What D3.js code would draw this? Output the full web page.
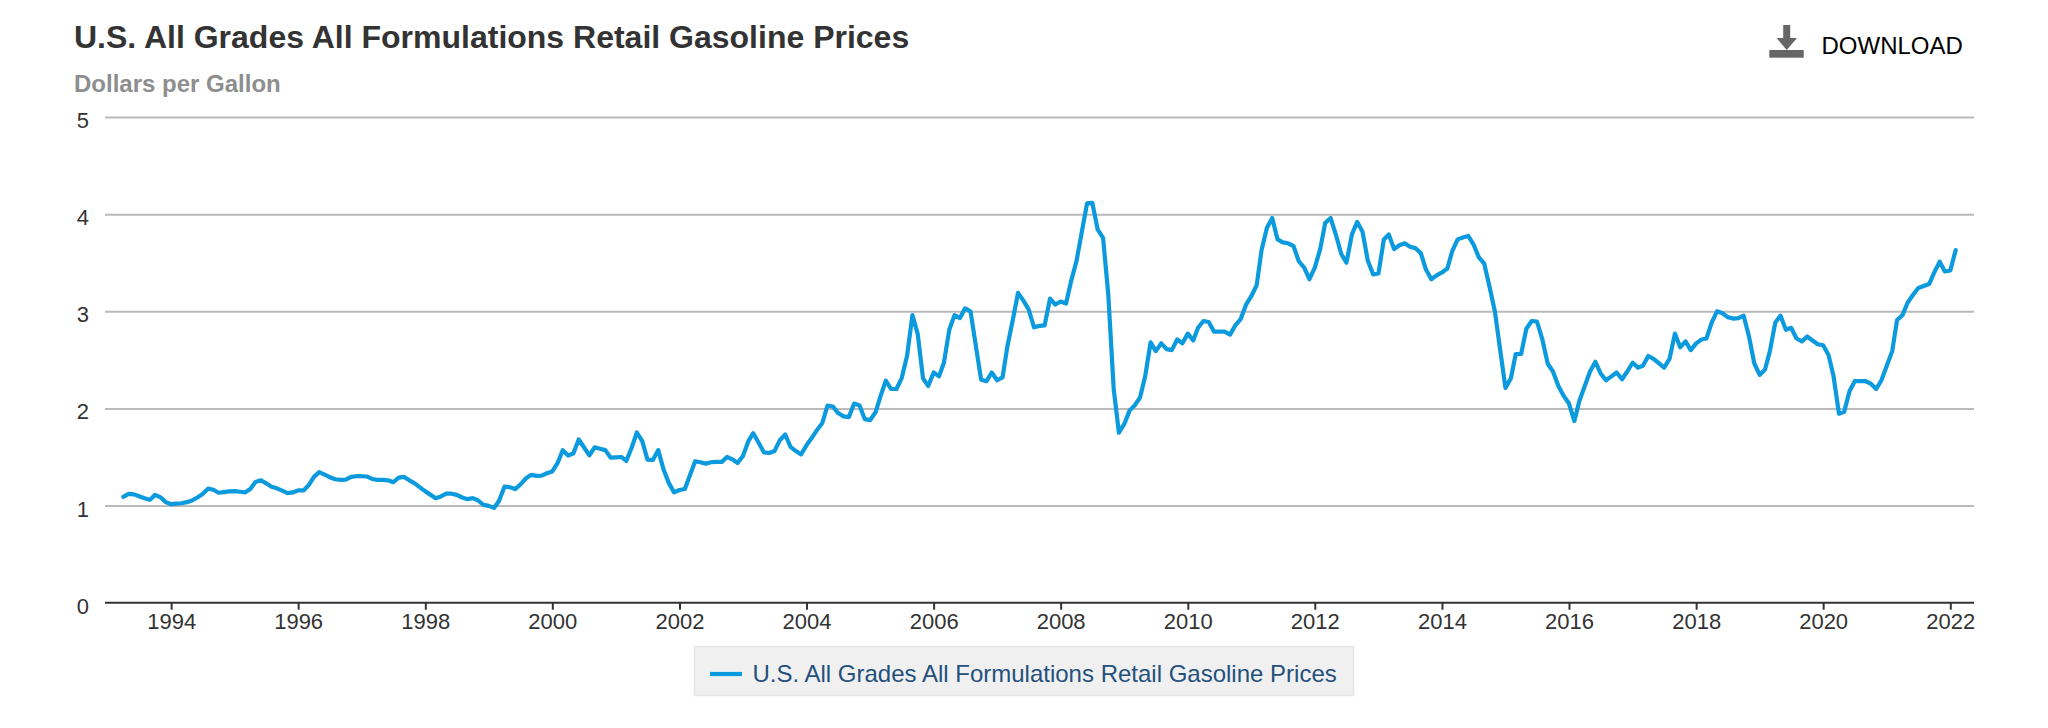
<!DOCTYPE html>
<html>
<head>
<meta charset="utf-8">
<script src="https://cdn.jsdelivr.net/npm/d3@7"></script>
<style>
html,body{margin:0;padding:0;background:#fff}
svg{display:block;font-family:"Liberation Sans",Arial,sans-serif}
</style>
</head>
<body>
<svg id="c" width="2048" height="728"></svg>
<script>
const titleText = "U.S. All Grades All Formulations Retail Gasoline Prices";
const subtitleText = "Dollars per Gallon";
const downloadText = "DOWNLOAD";
const startMonth = new Date(Date.UTC(1993, 3, 1));
const yTicks = [0, 1, 2, 3, 4, 5];
const xTickYears = [1994, 1996, 1998, 2000, 2002, 2004, 2006, 2008, 2010, 2012, 2014, 2016, 2018, 2020, 2022];
const prices = [
  1.09,1.12,1.115,1.095,1.075,1.06,1.11,1.085,1.035,
  1.014,1.02,1.024,1.035,1.052,1.083,1.118,1.174,1.163,1.132,1.139,1.146,
  1.149,1.142,1.135,1.17,1.243,1.26,1.229,1.194,1.177,1.153,1.128,1.135,
  1.156,1.156,1.208,1.295,1.344,1.319,1.292,1.271,1.264,1.267,1.295,1.302,
  1.302,1.299,1.274,1.264,1.264,1.26,1.24,1.288,1.295,1.26,1.229,1.188,
  1.146,1.11,1.076,1.094,1.122,1.122,1.11,1.083,1.066,1.076,1.052,1.007,
  0.997,0.976,1.05,1.194,1.19,1.17,1.215,1.278,1.316,1.306,1.309,1.333,
  1.351,1.44,1.57,1.515,1.535,1.68,1.60,1.517,1.60,1.585,1.571,1.493,
  1.497,1.50,1.459,1.595,1.752,1.663,1.473,1.469,1.571,1.374,1.231,1.136,
  1.16,1.17,1.306,1.456,1.446,1.432,1.446,1.449,1.449,1.50,1.476,1.439,
  1.51,1.663,1.745,1.646,1.548,1.541,1.561,1.673,1.731,1.605,1.561,1.527,
  1.62,1.697,1.776,1.85,2.03,2.02,1.952,1.918,1.911,2.05,2.03,1.89,
  1.88,1.96,2.122,2.286,2.20,2.20,2.31,2.54,2.96,2.77,2.31,2.23,
  2.37,2.33,2.47,2.81,2.96,2.93,3.03,3.00,2.64,2.295,2.28,2.37,
  2.29,2.32,2.64,2.91,3.19,3.11,3.02,2.835,2.85,2.855,3.13,3.07,
  3.10,3.08,3.31,3.515,3.81,4.11,4.117,3.84,3.756,3.17,2.2,1.75,
  1.84,1.98,2.03,2.11,2.33,2.68,2.59,2.67,2.61,2.60,2.71,2.67,
  2.77,2.70,2.83,2.90,2.89,2.79,2.79,2.79,2.76,2.855,2.92,3.065,
  3.155,3.27,3.63,3.86,3.96,3.74,3.71,3.70,3.67,3.515,3.45,3.33,
  3.45,3.64,3.91,3.96,3.79,3.59,3.50,3.79,3.92,3.82,3.52,3.38,
  3.39,3.74,3.79,3.64,3.68,3.70,3.665,3.65,3.60,3.43,3.33,3.37,
  3.40,3.44,3.62,3.74,3.76,3.775,3.69,3.555,3.49,3.255,3.0,2.61,
  2.21,2.31,2.56,2.56,2.82,2.90,2.895,2.71,2.46,2.38,2.23,2.13,
  2.05,1.87,2.08,2.23,2.38,2.48,2.36,2.29,2.33,2.37,2.30,2.38,
  2.47,2.42,2.44,2.54,2.51,2.465,2.42,2.51,2.77,2.63,2.69,2.60,
  2.67,2.71,2.72,2.885,3.00,2.98,2.94,2.925,2.93,2.955,2.74,2.465,
  2.345,2.40,2.59,2.885,2.955,2.81,2.83,2.72,2.69,2.74,2.70,2.66,
  2.65,2.55,2.33,1.945,1.965,2.18,2.28,2.28,2.28,2.255,2.20,2.29,
  2.44,2.59,2.91,2.96,3.09,3.17,3.24,3.26,3.28,3.40,3.51,3.41,
  3.42,3.63
];

const dates = prices.map((_, i) => d3.utcMonth.offset(startMonth, i));
const L = 105, R = 1974, T = 117, B = 602.7;
const LINE = "#0b9ade";

const x = d3.scaleUtc().domain([dates[0], dates[dates.length - 1]]).range([123.3, 1955.7]);
const y = d3.scaleLinear().domain([0, 5]).range([B, T]);
const svg = d3.select("#c");

// gridlines + y labels
const yAxis = d3.axisLeft(y).tickValues(yTicks).tickFormat(d3.format("d")).tickSize(-(R - L)).tickPadding(0);
const gy = svg.append("g").attr("transform", `translate(${L},0)`).call(yAxis);
gy.select(".domain").remove();
gy.selectAll(".tick line").attr("stroke", d => d === 0 ? "none" : "#bababa").attr("stroke-width", 2);
gy.selectAll(".tick text")
  .attr("x", -16).attr("y", 10.5).attr("dy", 0)
  .attr("text-anchor", "end").attr("font-size", 22).attr("fill", "#333").attr("font-family", '"Liberation Sans"');

// x axis
const tickDates = xTickYears.map(yr => new Date(Date.UTC(yr, 0, 1)));
const xAxis = d3.axisBottom(x).tickValues(tickDates).tickFormat(d3.utcFormat("%Y")).tickSize(7).tickSizeOuter(0).tickPadding(0);
const gx = svg.append("g").attr("transform", `translate(0,${B})`).call(xAxis);
gx.select(".domain").remove();
gx.append("line").attr("x1", L).attr("x2", R).attr("stroke", "#333").attr("stroke-width", 2);
gx.selectAll(".tick line").attr("stroke", "#333").attr("stroke-width", 2);
gx.selectAll(".tick text")
  .attr("y", 26.5).attr("dy", 0).attr("dx", 0)
  .attr("font-size", 22).attr("fill", "#333").attr("font-family", '"Liberation Sans"');

// series
const line = d3.line().x((_, i) => x(dates[i])).y(d => y(d));
svg.append("path").datum(prices)
  .attr("d", line).attr("fill", "none").attr("stroke", LINE)
  .attr("stroke-width", 4.2).attr("stroke-linejoin", "round").attr("stroke-linecap", "round");

// titles
svg.append("text").attr("x", 74).attr("y", 48).text(titleText)
  .attr("font-size", 32).attr("font-weight", 700).attr("fill", "#333");
svg.append("text").attr("x", 74).attr("y", 92).text(subtitleText)
  .attr("font-size", 24).attr("font-weight", 700).attr("fill", "#8e8e8e");

// download
const dl = svg.append("g").attr("fill", "#666");
dl.append("rect").attr("x", 1769.3).attr("y", 50).attr("width", 34.4).attr("height", 7.7);
dl.append("rect").attr("x", 1783.2).attr("y", 25).attr("width", 7).attr("height", 14);
dl.append("path").attr("d", "M1776.5,38 L1797,38 L1786.7,50 Z");
svg.append("text").attr("x", 1821.5).attr("y", 54).text(downloadText)
  .attr("font-size", 24).attr("fill", "#000");

// legend
svg.append("rect").attr("x", 694.5).attr("y", 646.5).attr("width", 659).attr("height", 49)
  .attr("fill", "#f0f0f0").attr("stroke", "#e4e4e4").attr("stroke-width", 1.5);
svg.append("line").attr("x1", 710).attr("x2", 742).attr("y1", 674).attr("y2", 674)
  .attr("stroke", LINE).attr("stroke-width", 4.2);
svg.append("text").attr("x", 752.5).attr("y", 681.5).text(titleText)
  .attr("font-size", 24).attr("fill", "#24507d");
</script>
</body>
</html>
